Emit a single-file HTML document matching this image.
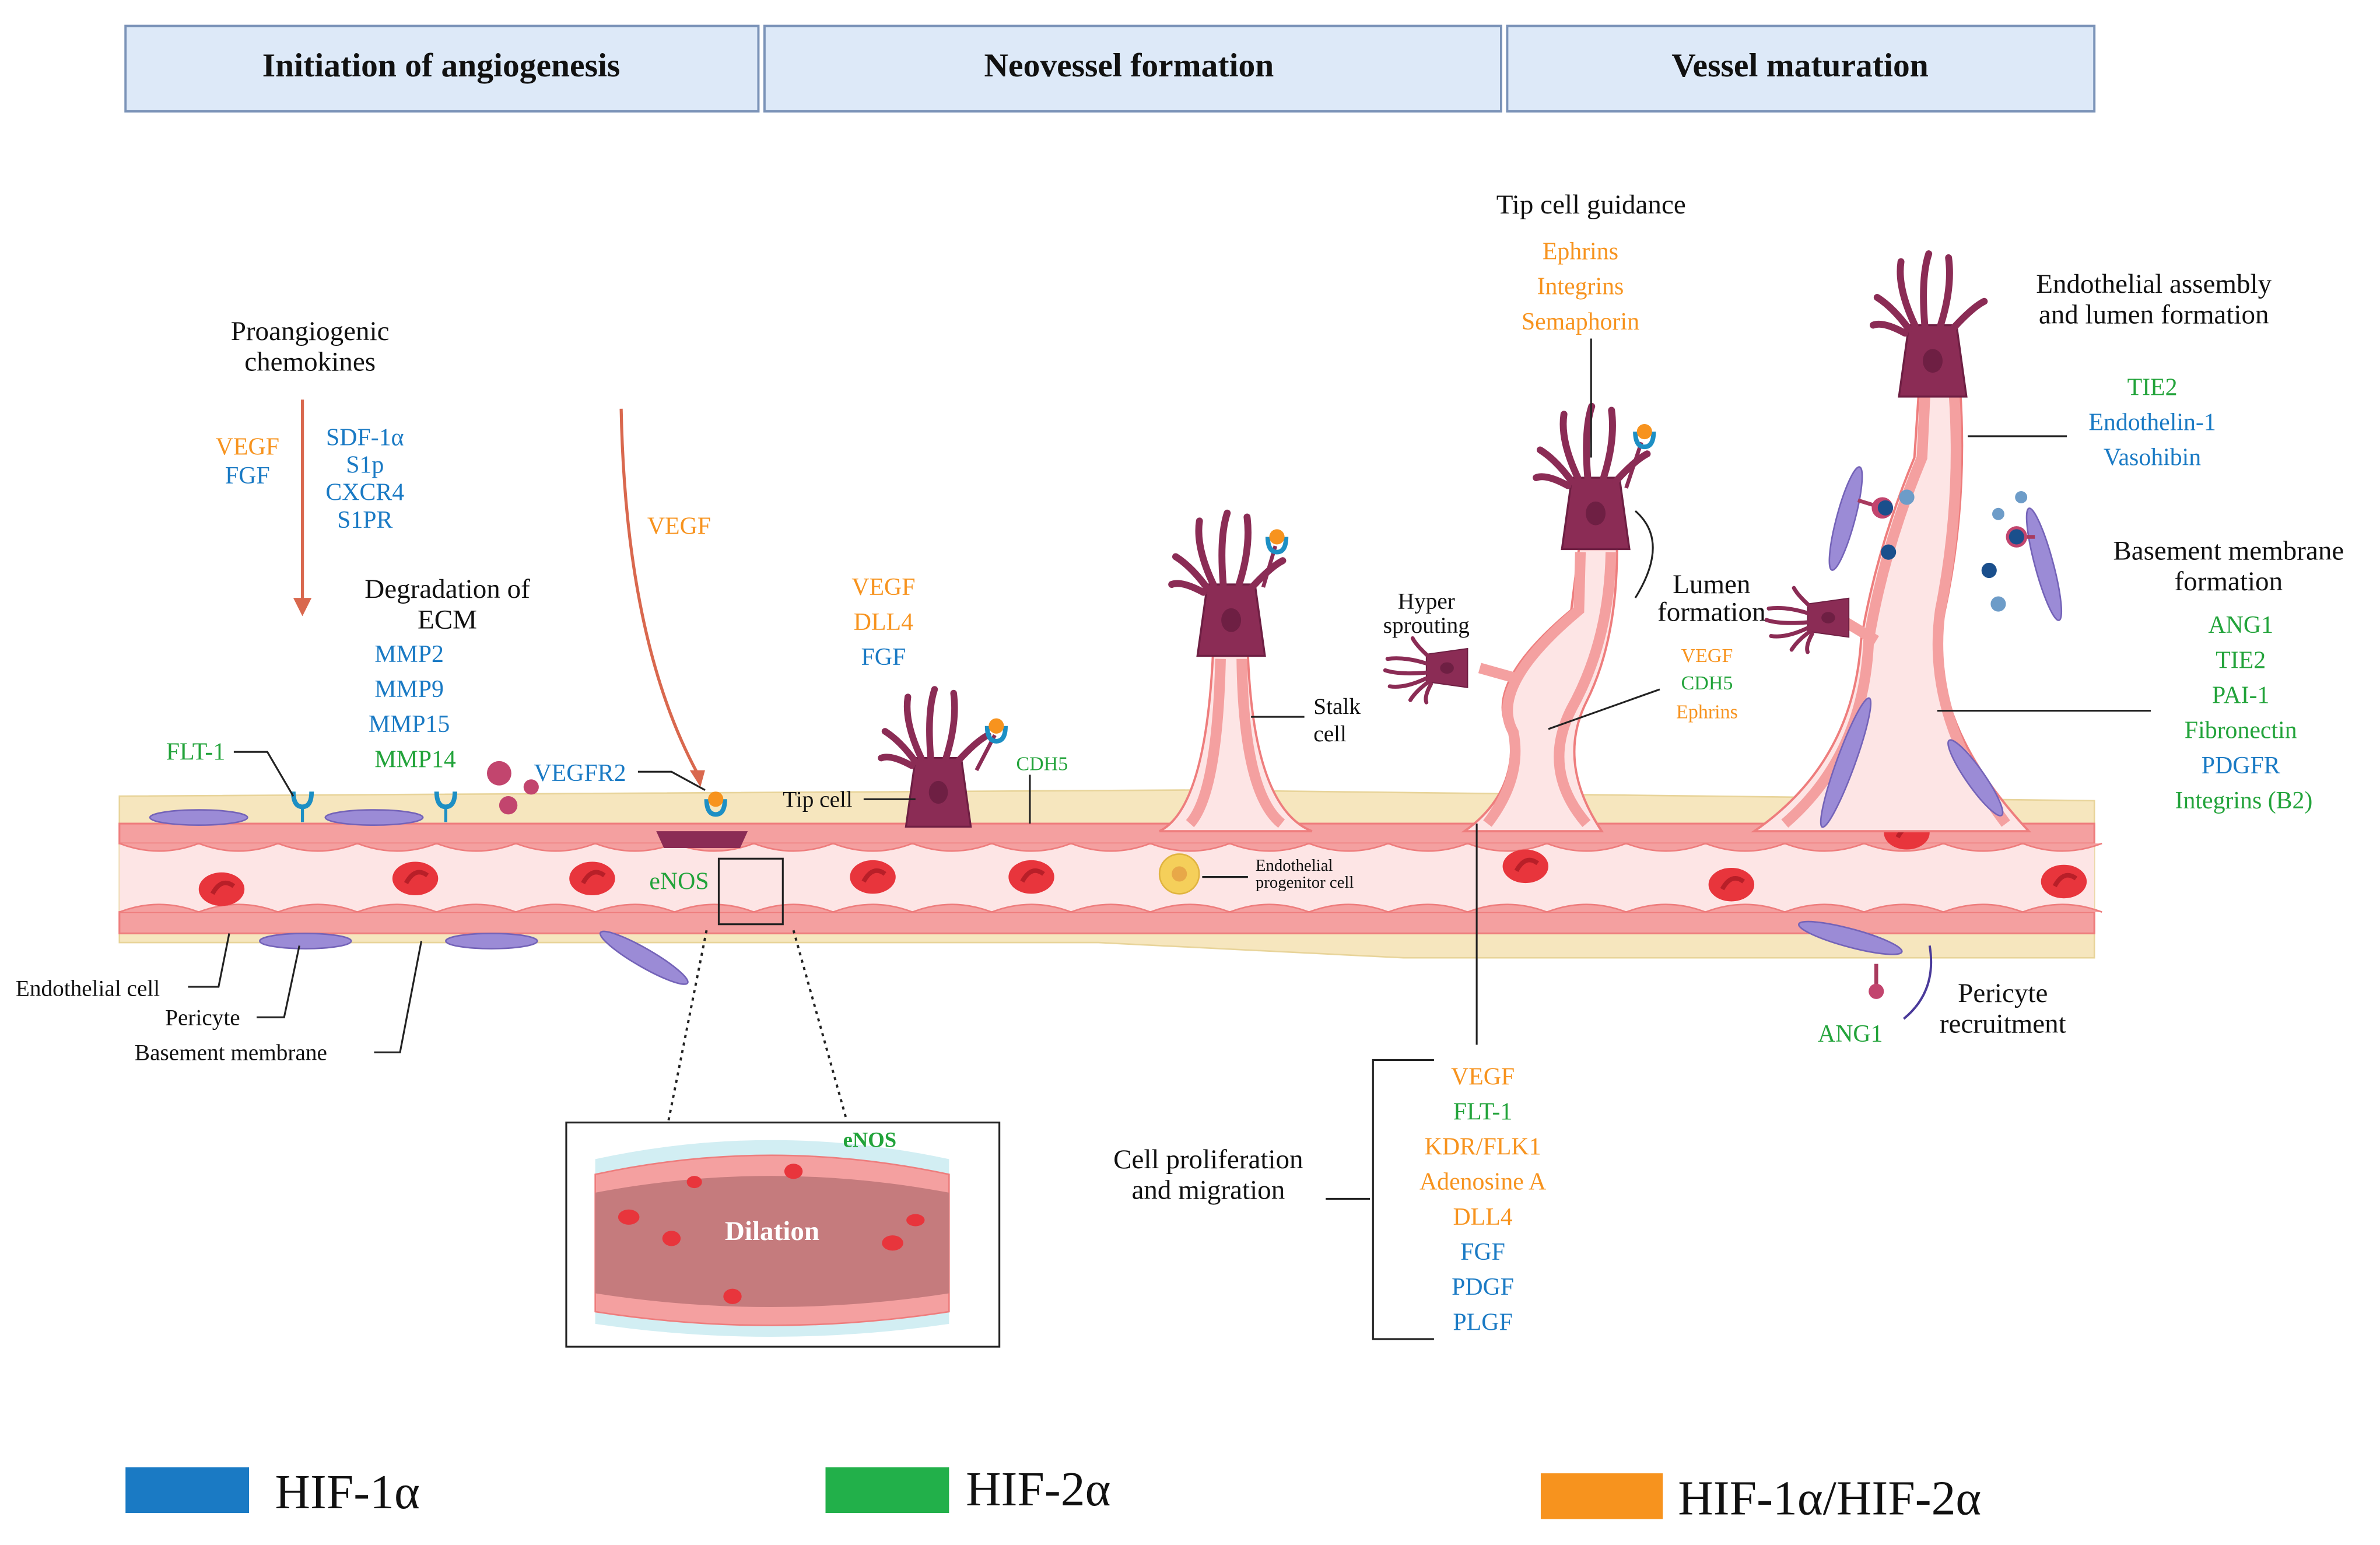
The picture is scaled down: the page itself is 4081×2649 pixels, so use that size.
<!DOCTYPE html>
<html><head><meta charset="utf-8"><style>
html,body{margin:0;padding:0;background:#fff;}
svg{display:block;}
text{font-family:"Liberation Serif",serif;}
</style></head><body>
<svg width="4081" height="2649" viewBox="0 0 1560 1013" xmlns="http://www.w3.org/2000/svg">
<defs>
<g id="tip">
 <path d="M-17,0 L17,0 L12,-36 L-12,-36 Z" fill="#8b2c55" stroke="#6e1f43" stroke-width="1"/>
 <ellipse cx="0" cy="-18" rx="5" ry="6" fill="#6e1f43"/>
 <g stroke="#8b2c55" stroke-width="3.5" fill="none" stroke-linecap="round">
  <path d="M-12,-34 Q-20,-45 -28,-50"/>
  <path d="M-9,-36 Q-18,-55 -16,-68"/>
  <path d="M-4,-36 Q-6,-60 -2,-72"/>
  <path d="M4,-36 Q10,-55 8,-70"/>
  <path d="M10,-34 Q20,-45 26,-48"/>
  <path d="M-14,-32 Q-25,-38 -30,-36"/>
 </g>
</g>
<g id="lig"><path d="M-6,-2 Q-6,8 0,8 Q6,8 6,-2" stroke="#1d8fc4" stroke-width="3" fill="none"/><circle cx="0" cy="-2" r="5" fill="#f7931e"/></g>
<g id="rbc"><ellipse rx="15" ry="11" fill="#e8353c"/><path d="M-6,3 Q0,-8 8,-2" stroke="#b81f28" stroke-width="3" fill="none"/></g>
<g id="rec"><path d="M-6,-8 Q-6,2 0,2 Q6,2 6,-8" stroke="#1d8fc4" stroke-width="3" fill="none"/><line x1="0" y1="2" x2="0" y2="12" stroke="#1d8fc4" stroke-width="2"/></g>
</defs>

<!-- header -->
<g stroke="#7b93b8" stroke-width="1.5" fill="#dde9f8">
<rect x="82" y="17" width="415" height="56"/>
<rect x="501" y="17" width="483" height="56"/>
<rect x="988" y="17" width="385" height="56"/>
</g>
<g font-size="22" font-weight="bold" text-anchor="middle" fill="#111">
<text x="289" y="50">Initiation of angiogenesis</text>
<text x="740" y="50">Neovessel formation</text>
<text x="1180" y="50">Vessel maturation</text>
</g>

<!-- vessel -->
<path d="M78,522 L780,518 L1373,525 L1373,628 L920,628 L720,618 L78,618 Z" fill="#f6e6be" stroke="#e8d49a"/>
<rect x="78" y="540" width="1295" height="72" fill="#fde5e5"/>
<g fill="#f4a0a0" stroke="#ee7d7d" stroke-width="1.2">
<rect x="78" y="540" width="1295" height="13"/>
<rect x="78" y="598" width="1295" height="14"/>
</g>
<g stroke="#ee7d7d" stroke-width="1">
<path d="M78,598 q26,-10 52,0 q26,-10 52,0 q26,-10 52,0 q26,-10 52,0 q26,-10 52,0 q26,-10 52,0 q26,-10 52,0 q26,-10 52,0 q26,-10 52,0 q26,-10 52,0 q26,-10 52,0 q26,-10 52,0 q26,-10 52,0 q26,-10 52,0 q26,-10 52,0 q26,-10 52,0 q26,-10 52,0 q26,-10 52,0 q26,-10 52,0 q26,-10 52,0 q26,-10 52,0 q26,-10 52,0 q26,-10 52,0 q26,-10 52,0 q26,-10 52,0" fill="#f4a0a0"/>
<path d="M78,553 q26,10 52,0 q26,10 52,0 q26,10 52,0 q26,10 52,0 q26,10 52,0 q26,10 52,0 q26,10 52,0 q26,10 52,0 q26,10 52,0 q26,10 52,0 q26,10 52,0 q26,10 52,0 q26,10 52,0 q26,10 52,0 q26,10 52,0 q26,10 52,0 q26,10 52,0 q26,10 52,0 q26,10 52,0 q26,10 52,0 q26,10 52,0 q26,10 52,0 q26,10 52,0 q26,10 52,0 q26,10 52,0" fill="#f4a0a0"/>
</g>
<use href="#rbc" x="145" y="583"/><use href="#rbc" x="272" y="576"/><use href="#rbc" x="388" y="576"/>
<use href="#rbc" x="572" y="575"/><use href="#rbc" x="676" y="575"/><use href="#rbc" x="1000" y="568"/>
<use href="#rbc" x="1135" y="580"/><use href="#rbc" x="1250" y="546"/><use href="#rbc" x="1353" y="578"/>
<circle cx="773" cy="573" r="13" fill="#f5cf5a" stroke="#e0b440"/><circle cx="773" cy="573" r="5" fill="#e8a848"/>

<!-- sprouts -->
<g fill="#fde5e5" stroke="#ee7d7d" stroke-width="1.5">
<path d="M760,545 Q790,530 795,430 L818,430 Q822,530 860,545 Z"/>
<path d="M960,545 Q995,520 990,480 Q970,450 1030,400 L1035,360 L1060,360 Q1060,420 1040,460 Q1020,500 1050,545 Z"/>
<path d="M1150,545 Q1215,500 1220,420 Q1230,360 1255,300 L1258,255 L1285,255 Q1290,330 1275,400 Q1260,470 1330,545 Z"/>
</g>
<g stroke="#f4a0a0" stroke-width="7" fill="none">
<path d="M780,540 Q798,520 800,432"/><path d="M840,540 Q815,520 814,432"/>
<path d="M975,540 Q998,510 992,480 Q975,450 1035,400 L1036,362"/>
<path d="M1040,540 Q1010,505 1030,465 Q1055,420 1056,362"/>
<path d="M1170,540 Q1222,495 1225,420 Q1235,360 1260,300 L1262,258"/>
<path d="M1315,540 Q1262,470 1272,400 Q1286,330 1281,258"/>
<path d="M995,445 L970,438"/><path d="M1230,420 L1205,405"/>
</g>
<g transform="translate(615,542) scale(1.25)"><use href="#tip"/></g>
<g transform="translate(807,430) scale(1.3)"><use href="#tip"/></g>
<g transform="translate(1046,360) scale(1.3)"><use href="#tip"/></g>
<g transform="translate(1267,260) scale(1.3)"><use href="#tip"/></g>
<g transform="translate(962,438) rotate(-90) scale(0.75)"><use href="#tip"/></g>
<g transform="translate(1212,405) rotate(-90) scale(0.75)"><use href="#tip"/></g>
<g stroke="#8b2c55" stroke-width="2.5" fill="none"><path d="M640,505 L652,482"/><path d="M828,385 L836,358"/><path d="M1066,320 L1076,290"/></g>
<use href="#lig" x="653" y="478"/><use href="#lig" x="837" y="354"/><use href="#lig" x="1078" y="285"/>
<!-- pericytes -->
<g fill="#9b8bd6" stroke="#7463b8">
<ellipse cx="130" cy="536" rx="32" ry="5"/><ellipse cx="245" cy="536" rx="32" ry="5"/>
<ellipse cx="200" cy="617" rx="30" ry="5"/><ellipse cx="322" cy="617" rx="30" ry="5"/>
<ellipse cx="422" cy="628" rx="33" ry="6" transform="rotate(30 422 628)"/>
<ellipse cx="1213" cy="615" rx="35" ry="6" transform="rotate(15 1213 615)"/>
<ellipse cx="1210" cy="340" rx="6" ry="35" transform="rotate(15 1210 340)"/>
<ellipse cx="1340" cy="370" rx="6" ry="38" transform="rotate(-15 1340 370)"/>
<ellipse cx="1210" cy="500" rx="6" ry="45" transform="rotate(20 1210 500)"/>
<ellipse cx="1295" cy="510" rx="6" ry="30" transform="rotate(-35 1295 510)"/>
</g>
<use href="#rec" x="198" y="527"/><use href="#rec" x="292" y="527"/><use href="#lig" x="469" y="526"/>
<path d="M430,545 L490,545 L485,556 L435,556 Z" fill="#8b2c55"/>
<g fill="#c2456e"><circle cx="327" cy="507" r="8"/><circle cx="348" cy="516" r="5"/><circle cx="333" cy="528" r="6"/></g>
<g stroke="#a83a5e" stroke-width="2.5" fill="none"><path d="M1218,328 L1234,333"/><path d="M1334,352 L1322,352"/><path d="M1230,632 L1230,648"/></g>
<g fill="#c2456e"><circle cx="1234" cy="333" r="7"/><circle cx="1322" cy="352" r="7"/><circle cx="1230" cy="650" r="5"/></g>
<g fill="#1a4f8c"><circle cx="1236" cy="333" r="5"/><circle cx="1238" cy="362" r="5"/><circle cx="1304" cy="374" r="5"/><circle cx="1322" cy="352" r="5"/></g>
<g fill="#6d9cc8"><circle cx="1250" cy="326" r="5"/><circle cx="1325" cy="326" r="4"/><circle cx="1310" cy="337" r="4"/><circle cx="1310" cy="396" r="5"/></g>

<!-- arrows -->
<g stroke="#d9684e" stroke-width="2" fill="none">
<line x1="198" y1="262" x2="198" y2="395"/>
<path d="M407,268 Q410,420 457,507"/>
</g>
<path d="M192,392 L204,392 L198,404 Z" fill="#d9684e"/>
<path d="M452,505 L462,505 L459,516 Z" fill="#d9684e"/>

<!-- leader lines -->
<g stroke="#222" stroke-width="1.2" fill="none">
<path d="M153,493 L175,493 L192,522"/>
<path d="M418,506 L440,506 L462,518"/>
<path d="M566,524 L600,524"/>
<path d="M675,508 L675,540"/>
<path d="M820,470 L855,470"/>
<path d="M788,575 L818,575"/>
<path d="M1043,222 L1043,300"/>
<path d="M1072,335 Q1095,355 1072,392"/>
<path d="M1015,478 L1088,452"/>
<path d="M968,540 L968,685"/>
<path d="M1290,286 L1355,286"/>
<path d="M1270,466 L1410,466"/>
<path d="M123,647 L143,647 L150,612"/>
<path d="M168,667 L186,667 L196,620"/>
<path d="M245,690 L262,690 L276,617"/>
<path d="M869,786 L898,786"/><path d="M940,695 L900,695 L900,878 L940,878"/>
<rect x="471" y="563" width="42" height="43"/>
</g>
<g stroke="#222" stroke-width="1.5" stroke-dasharray="2,3"><line x1="463" y1="610" x2="438" y2="735"/><line x1="520" y1="610" x2="555" y2="735"/></g>
<path d="M1248,668 Q1270,650 1265,620" stroke="#4a3a9a" stroke-width="1.5" fill="none"/>

<!-- dilation box -->
<rect x="371" y="736" width="284" height="147" fill="#fff" stroke="#222" stroke-width="1.2"/>
<path d="M390,760 Q505,735 622,760 L622,868 Q505,885 390,868 Z" fill="#d2eef3"/>
<path d="M390,770 Q505,745 622,770 L622,860 Q505,878 390,860 Z" fill="#f4a0a0" stroke="#ee7d7d"/>
<path d="M390,782 Q505,760 622,782 L622,848 Q505,866 390,848 Z" fill="#c57b7d"/>
<g fill="#e8353c"><ellipse cx="412" cy="798" rx="7" ry="5"/><ellipse cx="440" cy="812" rx="6" ry="5"/><ellipse cx="520" cy="768" rx="6" ry="5"/><ellipse cx="585" cy="815" rx="7" ry="5"/><ellipse cx="480" cy="850" rx="6" ry="5"/><ellipse cx="600" cy="800" rx="6" ry="4"/><ellipse cx="455" cy="775" rx="5" ry="4"/></g>
<text x="506" y="813" font-size="18" font-weight="bold" fill="#fff" text-anchor="middle">Dilation</text>
<text x="570" y="752" font-size="14" font-weight="bold" fill="#22a33a" text-anchor="middle">eNOS</text>

<!-- texts -->
<g font-size="18" fill="#111" text-anchor="middle">
<text x="203" y="223">Proangiogenic</text><text x="203" y="243">chemokines</text>
<text x="293" y="392">Degradation of</text><text x="293" y="412">ECM</text>
<text x="1043" y="140">Tip cell guidance</text>
<text x="1412" y="192">Endothelial assembly</text><text x="1412" y="212">and lumen formation</text>
<text x="1461" y="367">Basement membrane</text><text x="1461" y="387">formation</text>
<text x="1122" y="389">Lumen</text><text x="1122" y="407">formation</text>
<text x="792" y="766">Cell proliferation</text><text x="792" y="786">and migration</text>
<text x="1313" y="657">Pericyte</text><text x="1313" y="677">recruitment</text>
</g>
<g font-size="15" fill="#111">
<text x="10" y="653">Endothelial cell</text>
<text x="108" y="672">Pericyte</text>
<text x="88" y="695">Basement membrane</text>
<text x="513" y="529">Tip cell</text>
<text x="861" y="468">Stalk</text><text x="861" y="486">cell</text>
<text x="935" y="399" text-anchor="middle">Hyper</text><text x="935" y="415" text-anchor="middle">sprouting</text>
</g>
<text x="823" y="571" font-size="11" fill="#111">Endothelial</text><text x="823" y="582" font-size="11" fill="#111">progenitor cell</text>

<g font-size="16" text-anchor="middle">
<text x="162" y="298" fill="#f7931e">VEGF</text><text x="162" y="317" fill="#1a7ac4">FGF</text>
<g fill="#1a7ac4"><text x="239" y="292">SDF-1α</text><text x="239" y="310">S1p</text><text x="239" y="328">CXCR4</text><text x="239" y="346">S1PR</text>
<text x="268" y="434">MMP2</text><text x="268" y="457">MMP9</text><text x="268" y="480">MMP15</text></g>
<text x="272" y="503" fill="#22a33a">MMP14</text>
<text x="128" y="498" fill="#22a33a">FLT-1</text>
<text x="380" y="512" fill="#1a7ac4">VEGFR2</text>
<text x="445" y="350" fill="#f7931e">VEGF</text>
<text x="445" y="583" fill="#22a33a">eNOS</text>
<text x="579" y="390" fill="#f7931e">VEGF</text><text x="579" y="413" fill="#f7931e">DLL4</text><text x="579" y="436" fill="#1a7ac4">FGF</text>
<text x="1036" y="170" fill="#f7931e">Ephrins</text><text x="1036" y="193" fill="#f7931e">Integrins</text><text x="1036" y="216" fill="#f7931e">Semaphorin</text>
<text x="1411" y="259" fill="#22a33a">TIE2</text><text x="1411" y="282" fill="#1a7ac4">Endothelin-1</text><text x="1411" y="305" fill="#1a7ac4">Vasohibin</text>
<text x="1469" y="415" fill="#22a33a">ANG1</text><text x="1469" y="438" fill="#22a33a">TIE2</text><text x="1469" y="461" fill="#22a33a">PAI-1</text><text x="1469" y="484" fill="#22a33a">Fibronectin</text><text x="1469" y="507" fill="#1a7ac4">PDGFR</text><text x="1471" y="530" fill="#22a33a">Integrins (B2)</text>
<text x="1213" y="683" fill="#22a33a">ANG1</text>
<text x="972" y="711" fill="#f7931e">VEGF</text><text x="972" y="734" fill="#22a33a">FLT-1</text><text x="972" y="757" fill="#f7931e">KDR/FLK1</text><text x="972" y="780" fill="#f7931e">Adenosine A</text><text x="972" y="803" fill="#f7931e">DLL4</text><text x="972" y="826" fill="#1a7ac4">FGF</text><text x="972" y="849" fill="#1a7ac4">PDGF</text><text x="972" y="872" fill="#1a7ac4">PLGF</text>
</g>
<g font-size="13" text-anchor="middle">
<text x="683" y="505" fill="#22a33a">CDH5</text>
<text x="1119" y="434" fill="#f7931e">VEGF</text><text x="1119" y="452" fill="#22a33a">CDH5</text><text x="1119" y="471" fill="#f7931e">Ephrins</text>
</g>

<!-- legend -->
<rect x="82" y="962" width="81" height="30" fill="#1a7ac4"/>
<rect x="541" y="962" width="81" height="30" fill="#22b04a"/>
<rect x="1010" y="966" width="80" height="30" fill="#f7931e"/>
<g font-size="32" fill="#111">
<text x="180" y="989">HIF-1α</text><text x="633" y="987">HIF-2α</text><text x="1100" y="993">HIF-1α/HIF-2α</text>
</g>
</svg>
</body></html>
